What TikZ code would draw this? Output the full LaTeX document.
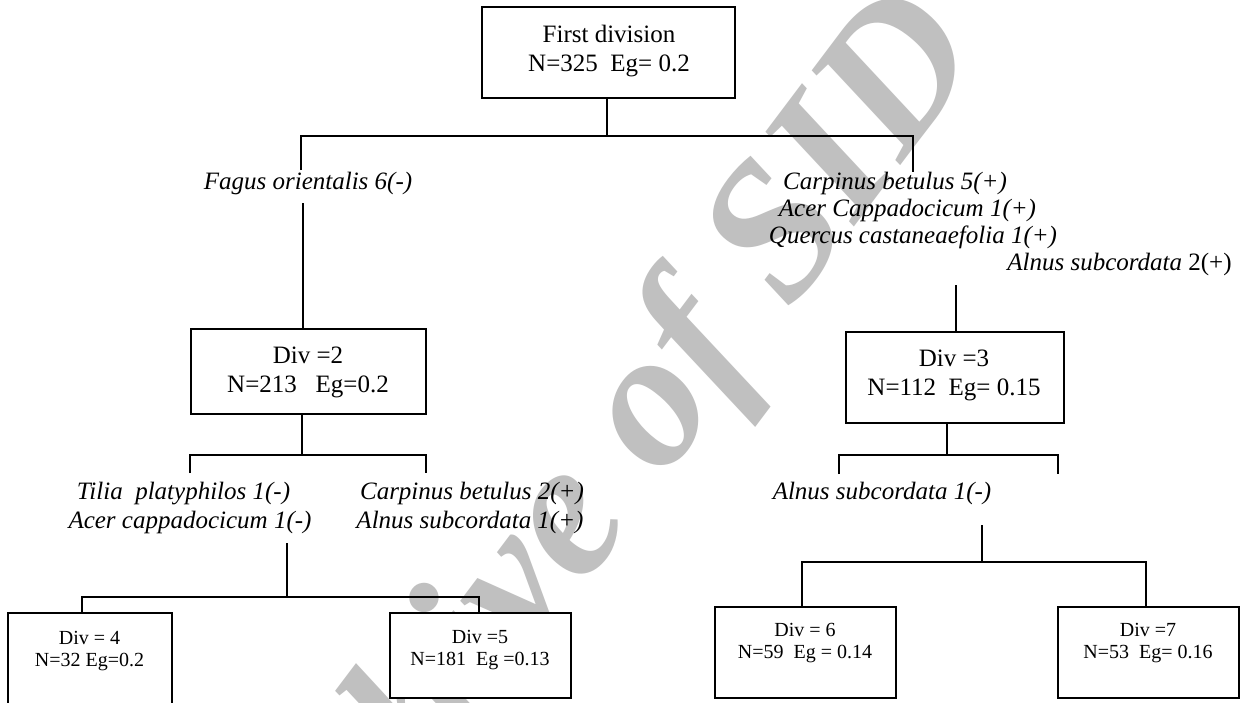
\documentclass[tikz,border=0pt]{standalone}
\usepackage{fontspec}
\setmainfont{Liberation Serif}
\definecolor{wm}{RGB}{192,192,192}
\begin{document}
\begin{tikzpicture}[x=1pt,y=-1pt,
  box/.style={draw, line width=1.3pt, fill=white, inner sep=0pt},
  big/.style={font=\fontsize{25}{29}\selectfont, align=center, inner sep=0pt},
  small/.style={font=\fontsize{20}{22}\selectfont, align=center, inner sep=0pt},
  sp/.style={font=\fontsize{25}{28}\selectfont\itshape, inner sep=0pt, anchor=base},
  wmark/.style={text=wm, font=\fontsize{195}{195}\selectfont\bfseries\itshape, rotate=53, inner sep=0pt},
  ln/.style={line width=1.3pt}]
\clip (0,0) rectangle (1244,702);
\fill[white] (0,0) rectangle (1244,702);
% watermark
\node[wmark] (wmk) at (583,508) {Archive of SID};
% boxes
\node[box, minimum width=253pt, minimum height=91pt] (b1) at (608.5,52.5) {};
\node[box, minimum width=235pt, minimum height=85pt] (b2) at (308.5,371.5) {};
\node[box, minimum width=218pt, minimum height=91pt] (b3) at (955,377.5) {};
\node[box, minimum width=164pt, minimum height=117pt] (b4) at (90,671.5) {};
\node[box, minimum width=181pt, minimum height=85pt] (b5) at (480.5,655.5) {};
\node[box, minimum width=181pt, minimum height=91pt] (b6) at (805.5,652.5) {};
\node[box, minimum width=181pt, minimum height=91pt] (b7) at (1148.5,652.5) {};
% box texts
\node[big, anchor=north] (t1) at (609,24.5) {First division\\N=325~~Eg= 0.2};
\node[big, anchor=north] (t2) at (308,346.5) {Div =2\\N=213~~~Eg=0.2};
\node[big, anchor=north] (t3) at (954,349.5) {Div =3\\N=112~~Eg= 0.15};
\node[small, anchor=north] (t4) at (89.5,631) {Div = 4\\N=32 Eg=0.2};
\node[small, anchor=north] (t5) at (480,630) {Div =5\\N=181~~Eg =0.13};
\node[small, anchor=north] (t6) at (805,623) {Div = 6\\N=59~~Eg = 0.14};
\node[small, anchor=north] (t7) at (1148,623) {Div =7\\N=53~~Eg= 0.16};
% species
\node[sp] (s1) at (308,189) {Fagus orientalis 6(-)};
\node[sp] (s2) at (895,189) {Carpinus betulus 5(+)};
\node[sp] (s3) at (907.5,216) {Acer Cappadocicum 1(+)};
\node[sp] (s4) at (913,243) {Quercus castaneaefolia 1(+)};
\node[sp] (s5) at (1119.5,270) {Alnus subcordata \upshape 2(+)};
\node[sp] (s6) at (183.5,499) {Tilia~~platyphilos 1(-)};
\node[sp] (s7) at (190,528) {Acer cappadocicum 1(-)};
\node[sp] (s8) at (472,499) {Carpinus betulus 2(+)};
\node[sp] (s9) at (470,528) {Alnus subcordata 1(+)};
\node[sp] (s10) at (882,499) {Alnus subcordata 1(-)};
% connectors
\coordinate (j1) at (607,136);
\coordinate (l1) at (301,170);
\coordinate (r1) at (913,172);
\draw[ln] (b1.south -| j1) -- (j1);
\draw[ln] (l1) -- (l1 |- j1) -- (r1 |- j1) -- (r1);
\coordinate (f1) at (303,203);
\draw[ln] (f1) -- (f1 |- b2.north);
\coordinate (j2) at (302,455);
\coordinate (l2) at (190,473);
\coordinate (r2) at (426,473);
\draw[ln] (b2.south -| j2) -- (j2);
\draw[ln] (l2) -- (l2 |- j2) -- (r2 |- j2) -- (r2);
\coordinate (f2) at (287,543);
\coordinate (j3) at (287,597);
\draw[ln] (f2) -- (j3);
\coordinate (l3) at (82,597);
\coordinate (r3) at (479,597);
\draw[ln] (b4.north -| l3) -- (l3) -- (r3) -- (b5.north -| r3);
\coordinate (f3) at (956,285);
\draw[ln] (f3) -- (f3 |- b3.north);
\coordinate (j4) at (947,455);
\coordinate (l4) at (839,474);
\coordinate (r4) at (1058,474);
\draw[ln] (b3.south -| j4) -- (j4);
\draw[ln] (l4) -- (l4 |- j4) -- (r4 |- j4) -- (r4);
\coordinate (f4) at (982,525);
\coordinate (j5) at (982,562);
\draw[ln] (f4) -- (j5);
\coordinate (l5) at (802,562);
\coordinate (r5) at (1146,562);
\draw[ln] (b6.north -| l5) -- (l5) -- (r5) -- (b7.north -| r5);
\end{tikzpicture}
\end{document}
